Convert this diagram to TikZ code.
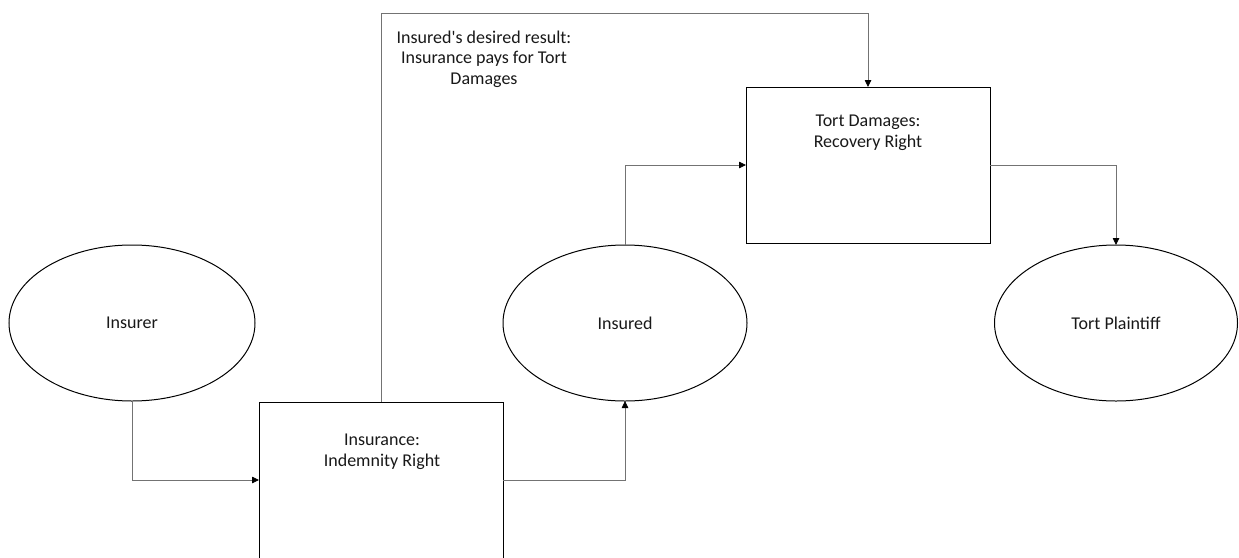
\documentclass[tikz,border=0pt]{standalone}
\usepackage{fontspec}
\setmainfont{Carlito}
\usetikzlibrary{shapes.geometric,arrows.meta}
\tikzset{
  party/.style={ellipse,draw=black,line width=1pt,inner sep=0pt,outer sep=0pt},
  rightbox/.style={rectangle,draw=black,line width=1pt,inner sep=0pt,outer sep=0pt,minimum width=244pt,minimum height=156pt},
  lbl/.style={align=center,inner sep=0pt,text=black!90,font=\fontsize{18}{20.5}\selectfont},
  conn/.style={draw=black!55,line width=0.8pt,-{Triangle[length=7pt,width=6.5pt,color=black]}},
}
\begin{document}
\begin{tikzpicture}[x=1pt,y=-1pt]
\useasboundingbox (0,0) rectangle (1239,557);
\clip (0,0) rectangle (1239,557);
\fill[white] (0,0) rectangle (1239,557);
% parties
\node[party,minimum width=246pt,minimum height=156pt] (insurer) at (132,323) {};
\node[lbl] (insurerT) at (132,323) {Insurer};
\node[party,minimum width=244pt,minimum height=156pt] (insured) at (625,323) {};
\node[lbl] (insuredT) at (625,323) {Insured};
\node[party,minimum width=243pt,minimum height=156pt] (plaintiff) at (1116,323) {};
\node[lbl] (plaintiffT) at (1116,323) {Tort Plaintiff};
% rights
\node[rightbox] (insbox) at (381,480) {};
\node[lbl] (insboxT) at (382,452) {Insurance:\\Indemnity Right};
\node[rightbox] (tortbox) at (868,165) {};
\node[lbl] (tortboxT) at (868,133) {Tort Damages:\\Recovery Right};
% desired result label
\node[lbl] (desired) at (484,59) {Insured\textquotesingle s desired result:\\Insurance pays for Tort\\Damages};
\coordinate (top) at (0,13);
% connectors
\draw[conn] (insurer.south) |- (insbox.west);
\draw[conn] (insbox.east) -| (insured.south);
\draw[conn] (insured.north) |- (tortbox.west);
\draw[conn] (tortbox.east) -| (plaintiff.north);
\draw[conn] (insbox.north) -- (insbox.north |- top) -| (tortbox.north);
\end{tikzpicture}
\end{document}
